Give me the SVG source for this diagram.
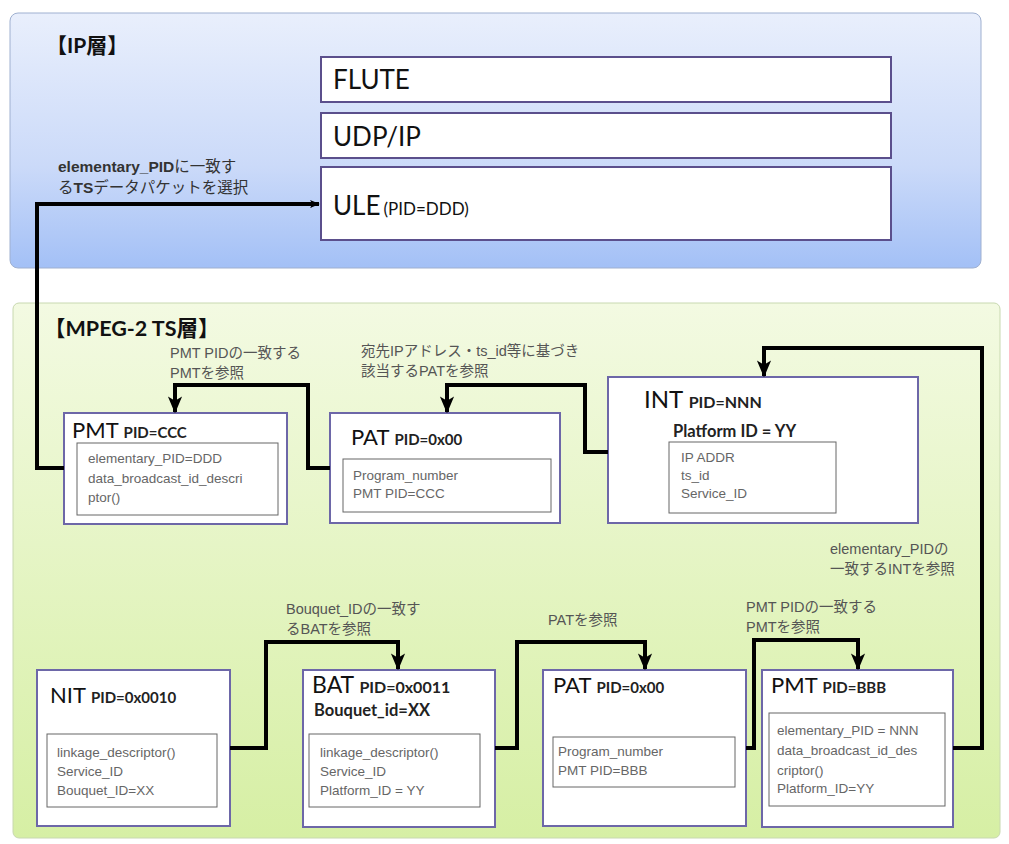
<svg xmlns="http://www.w3.org/2000/svg" width="1009" height="844" viewBox="0 0 1009 844">
<defs>
<linearGradient id="gIP" x1="0" y1="0" x2="0" y2="1">
<stop offset="0" stop-color="#e9effc"/>
<stop offset="0.6" stop-color="#cbdaf9"/>
<stop offset="1" stop-color="#a3c0f6"/>
</linearGradient>
<linearGradient id="gTS" x1="0" y1="0" x2="0" y2="1">
<stop offset="0" stop-color="#f3fae2"/>
<stop offset="1" stop-color="#d6efa4"/>
</linearGradient>
<marker id="arr" viewBox="0 0 12 12" refX="11" refY="6" markerWidth="17" markerHeight="17" markerUnits="userSpaceOnUse" orient="auto">
<path d="M0,1 L12,6 L0,11 L3,6 z" fill="#000"/>
</marker>
<marker id="arrS" viewBox="0 0 12 12" refX="11" refY="6" markerWidth="10" markerHeight="10" markerUnits="userSpaceOnUse" orient="auto">
<path d="M0,1 L12,6 L0,11 L3,6 z" fill="#000"/>
</marker>
</defs>
<style>
.panelIP{fill:url(#gIP);stroke:#9fb0d0;stroke-width:1}
.panelTS{fill:url(#gTS);stroke:#c8d8b0;stroke-width:1}
.layer{fill:#fff;stroke:#5b4f8c;stroke-width:2}
.node{fill:#fff;stroke:#6d67a8;stroke-width:2}
.inner{fill:#fff;stroke:#666;stroke-width:1}
.conn{fill:none;stroke:#000;stroke-width:4;stroke-linejoin:miter}
.hdr{font-family:Lato,"Noto Sans CJK JP",sans-serif;font-size:20px;fill:#111;font-weight:bold}
.lay{font-family:Lato,"Noto Sans CJK JP",sans-serif;font-size:26px;fill:#111}
.ttl{font-family:Lato,"Noto Sans CJK JP",sans-serif;font-size:22px;fill:#111}
.pid{font-family:Lato,"Noto Sans CJK JP",sans-serif;font-size:15px;font-weight:bold;fill:#222}
.sub{font-family:Lato,"Noto Sans CJK JP",sans-serif;font-size:16.5px;font-weight:bold;fill:#222}
.itx{font-family:"Liberation Sans","Noto Sans CJK JP",sans-serif;font-size:13.5px;fill:#666}
.lbl{font-family:"Liberation Sans","Noto Sans CJK JP",sans-serif;font-size:14.5px;fill:#555}
.lblB{font-family:"Liberation Sans","Noto Sans CJK JP",sans-serif;font-size:15.5px;fill:#333}
</style>
<rect x="0" y="0" width="1009" height="844" fill="#fff"/>
<rect class="panelIP" x="10" y="13" width="971" height="255" rx="8"/>
<rect class="panelTS" x="13" y="303" width="987" height="535" rx="6"/>
<text class="hdr" x="46" y="53" style="font-size:21px">【IP層】</text>
<text class="hdr" x="44" y="336" style="font-size:21.5px">【MPEG-2 TS層】</text>

<g id="flute"><rect class="layer" x="321" y="57" width="570" height="45"/><text class="lay" x="333" y="89">FLUTE</text></g>
<g id="udpip"><rect class="layer" x="321" y="113" width="570" height="45"/><text class="lay" x="333" y="146">UDP/IP</text></g>
<g id="ule"><rect class="layer" x="321" y="167" width="570" height="73"/><text class="lay" x="333" y="215">ULE<tspan dx="3" style="font-size:17px">(PID=DDD)</tspan></text></g>

<g id="pmt-ccc">
<rect class="node" x="64" y="413" width="223" height="111"/>
<text class="ttl" x="72" y="438">PMT <tspan class="pid">PID=CCC</tspan></text>
<rect class="inner" x="77" y="443" width="201" height="72"/>
<text class="itx" x="88" y="463">elementary_PID=DDD</text>
<text class="itx" x="88" y="483">data_broadcast_id_descri</text>
<text class="itx" x="88" y="502">ptor()</text>
</g>

<g id="pat-top">
<rect class="node" x="330" y="413" width="230" height="110"/>
<text class="ttl" x="351" y="445">PAT <tspan class="pid">PID=0x00</tspan></text>
<rect class="inner" x="343" y="459" width="208" height="53"/>
<text class="itx" x="353" y="480">Program_number</text>
<text class="itx" x="353" y="498">PMT PID=CCC</text>
</g>

<g id="int">
<rect class="node" x="608" y="377" width="310" height="146"/>
<text class="ttl" x="644" y="408" style="font-size:24px">INT <tspan class="pid" style="font-size:16px">PID=NNN</tspan></text>
<text class="sub" x="673" y="437">Platform ID = YY</text>
<rect class="inner" x="669" y="442" width="167" height="71"/>
<text class="itx" x="681" y="462">IP ADDR</text>
<text class="itx" x="681" y="480">ts_id</text>
<text class="itx" x="681" y="498">Service_ID</text>
</g>

<g id="nit">
<rect class="node" x="37" y="670" width="193" height="156"/>
<text class="ttl" x="50" y="703">NIT <tspan class="pid">PID=0x0010</tspan></text>
<rect class="inner" x="47" y="734" width="170" height="73"/>
<text class="itx" x="57" y="757">linkage_descriptor()</text>
<text class="itx" x="57" y="776">Service_ID</text>
<text class="itx" x="57" y="795">Bouquet_ID=XX</text>
</g>

<g id="bat">
<rect class="node" x="303" y="670" width="192" height="157"/>
<text class="ttl" x="312" y="693" style="font-size:23px">BAT <tspan class="pid" style="font-size:16px">PID=0x0011</tspan></text>
<text class="sub" x="314" y="716">Bouquet_id=XX</text>
<rect class="inner" x="309" y="734" width="171" height="73"/>
<text class="itx" x="320" y="757">linkage_descriptor()</text>
<text class="itx" x="320" y="776">Service_ID</text>
<text class="itx" x="320" y="795">Platform_ID = YY</text>
</g>

<g id="pat-bottom">
<rect class="node" x="543" y="670" width="203" height="156"/>
<text class="ttl" x="553" y="693">PAT <tspan class="pid">PID=0x00</tspan></text>
<rect class="inner" x="553" y="737" width="182" height="50"/>
<text class="itx" x="558" y="756">Program_number</text>
<text class="itx" x="558" y="775">PMT PID=BBB</text>
</g>

<g id="pmt-bbb">
<rect class="node" x="762" y="670" width="191" height="157"/>
<text class="ttl" x="771" y="693">PMT <tspan class="pid">PID=BBB</tspan></text>
<rect class="inner" x="769" y="713" width="176" height="93"/>
<text class="itx" x="777" y="735">elementary_PID = NNN</text>
<text class="itx" x="777" y="755">data_broadcast_id_des</text>
<text class="itx" x="777" y="775">criptor()</text>
<text class="itx" x="777" y="793">Platform_ID=YY</text>
</g>

<g id="connectors">
<path class="conn" d="M64 468 H37 V204 H319" marker-end="url(#arrS)"/>
<path class="conn" d="M330 468 H308 V385 H175 V412" marker-end="url(#arr)"/>
<path class="conn" d="M608 452 H585 V385 H447 V412" marker-end="url(#arr)"/>
<path class="conn" d="M953 748 H982 V348 H764 V376" marker-end="url(#arr)"/>
<path class="conn" d="M230 748 H266 V642 H398 V669" marker-end="url(#arr)"/>
<path class="conn" d="M495 748 H517 V642 H645 V669" marker-end="url(#arr)"/>
<path class="conn" d="M746 748 H754 V640 H858 V669" marker-end="url(#arr)"/>
</g>

<g id="labels">
<text class="lblB" x="58" y="172"><tspan font-weight="bold">elementary_PID</tspan>に一致す</text>
<text class="lblB" x="58" y="193">る<tspan font-weight="bold">TS</tspan>データパケットを選択</text>
<text class="lbl" x="170" y="358">PMT PIDの一致する</text>
<text class="lbl" x="170" y="378">PMTを参照</text>
<text class="lbl" x="361" y="356">宛先IPアドレス・ts_id等に基づき</text>
<text class="lbl" x="361" y="376">該当するPATを参照</text>
<text class="lbl" x="830" y="554">elementary_PIDの</text>
<text class="lbl" x="830" y="574">一致するINTを参照</text>
<text class="lbl" x="286" y="614">Bouquet_IDの一致す</text>
<text class="lbl" x="286" y="634">るBATを参照</text>
<text class="lbl" x="548" y="625">PATを参照</text>
<text class="lbl" x="746" y="612">PMT PIDの一致する</text>
<text class="lbl" x="746" y="632">PMTを参照</text>
</g>
</svg>
